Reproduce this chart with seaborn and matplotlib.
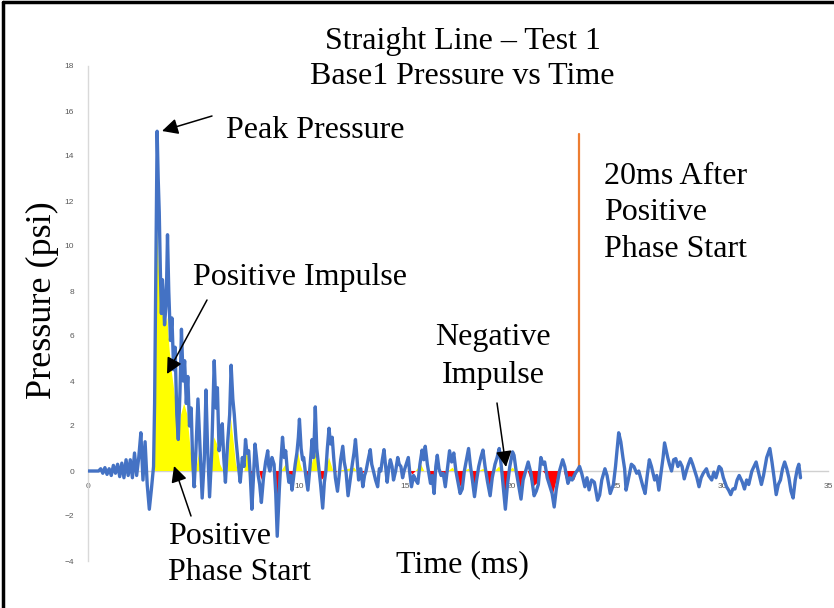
import matplotlib
matplotlib.use("Agg")
import matplotlib.pyplot as plt
import seaborn as sns
import pandas as pd
from matplotlib.lines import Line2D
from matplotlib.patches import FancyArrowPatch

# ---------------- data ----------------
time_ms = [
    0.0, 0.3, 0.5, 0.6, 0.7, 0.8, 0.9, 1.0, 1.1, 1.2, 1.3, 1.4, 1.5, 1.6, 1.7, 1.8, 1.9,
    2.0, 2.1, 2.2, 2.3, 2.4, 2.5, 2.6, 2.7, 2.8, 2.9, 3.0, 3.1, 3.15, 3.2, 3.27, 3.32,
    3.37, 3.42, 3.47, 3.52, 3.57, 3.62, 3.7, 3.76, 3.82, 3.9, 3.97, 4.05, 4.12, 4.2,
    4.27, 4.35, 4.42, 4.5, 4.57, 4.65, 4.72, 4.8, 4.88, 4.95, 5.02, 5.1, 5.2, 5.3, 5.4,
    5.5, 5.58, 5.65, 5.75, 5.85, 5.97, 6.05, 6.12, 6.2, 6.28, 6.35, 6.42, 6.5, 6.6, 6.7,
    6.77, 6.85, 6.92, 7.0, 7.05, 7.12, 7.2, 7.3, 7.38, 7.45, 7.52, 7.6, 7.68, 7.75, 7.82,
    7.9, 7.97, 8.05, 8.12, 8.2, 8.3, 8.4, 8.5, 8.55, 8.6, 8.7, 8.8, 8.88, 8.95, 9.05,
    9.12, 9.2, 9.28, 9.35, 9.42, 9.5, 9.58, 9.65, 9.72, 9.8, 9.88, 9.95, 10.0, 10.08,
    10.15, 10.2, 10.3, 10.4, 10.5, 10.6, 10.67, 10.75, 10.82, 10.9, 11.0, 11.1, 11.18,
    11.25, 11.32, 11.4, 11.47, 11.55, 11.62, 11.7, 11.8, 11.88, 11.95, 12.05, 12.12,
    12.2, 12.3, 12.4, 12.5, 12.58, 12.65, 12.72, 12.8, 12.9, 13.0, 13.08, 13.15, 13.25,
    13.35, 13.42, 13.5, 13.6, 13.7, 13.78, 13.85, 13.92, 14.0, 14.08, 14.15, 14.22,
    14.3, 14.38, 14.45, 14.55, 14.65, 14.72, 14.8, 14.88, 14.95, 15.05, 15.15, 15.22,
    15.3, 15.4, 15.5, 15.6, 15.7, 15.8, 15.88, 15.95, 16.05, 16.2, 16.28, 16.37, 16.45,
    16.52, 16.6, 16.7, 16.8, 16.9, 17.0, 17.1, 17.2, 17.3, 17.4, 17.5, 17.6, 17.7, 17.8,
    17.9, 18.0, 18.08, 18.18, 18.28, 18.38, 18.48, 18.58, 18.68, 18.78, 18.9, 19.02,
    19.12, 19.25, 19.35, 19.45, 19.55, 19.65, 19.74, 19.84, 19.95, 20.08, 20.15, 20.25,
    20.38, 20.48, 20.58, 20.7, 20.82, 20.95, 21.1, 21.2, 21.3, 21.42, 21.52, 21.6, 21.72,
    21.82, 21.95, 22.05, 22.15, 22.3, 22.45, 22.55, 22.7, 22.8, 22.9, 23.05, 23.16,
    23.25, 23.35, 23.5, 23.6, 23.7, 23.82, 23.95, 24.1, 24.2, 24.3, 24.45, 24.55, 24.7,
    24.85, 24.95, 25.1, 25.2, 25.3, 25.38, 25.45, 25.55, 25.7, 25.82, 25.95, 26.05,
    26.25, 26.35, 26.45, 26.55, 26.65, 26.8, 26.9, 27.0, 27.1, 27.2, 27.27, 27.35, 27.42,
    27.5, 27.6, 27.7, 27.8, 27.9, 28.0, 28.1, 28.2, 28.3, 28.4, 28.5, 28.6, 28.7, 28.8,
    28.9, 29.0, 29.1, 29.25, 29.35, 29.5, 29.6, 29.7, 29.85, 29.95, 30.05, 30.2, 30.3,
    30.4, 30.5, 30.6, 30.7, 30.8, 30.95, 31.05, 31.15, 31.25, 31.4, 31.5, 31.6, 31.7,
    31.85, 31.95, 32.1, 32.25, 32.35, 32.45, 32.55, 32.65, 32.75, 32.85, 32.95, 33.05,
    33.15, 33.25, 33.35, 33.45, 33.55, 33.62, 33.7,
]
pressure_psi = [
    0.0, 0.0, 0.0, 0.1, -0.1, 0.15, -0.15, 0.1, -0.2, 0.25, -0.1, 0.3, -0.25, 0.35, -0.3, 0.5, -0.2,
    0.5, -0.3, 0.8, -0.2, 0.6, 1.7, -0.4, 1.3, -0.6, -1.7, -0.8, 0.2, 3.0, 8.0, 15.1, 13.0,
    11.5, 9.0, 7.0, 8.5, 7.8, 6.5, 7.5, 10.5, 8.0, 5.8, 6.8, 4.5, 5.5, 2.5,
    1.4, 3.5, 6.3, 4.0, 4.9, 3.0, 4.2, 2.0, 2.8, 0.5, -0.7, 0.8, 3.2, 1.0, -1.2,
    0.5, 3.6, 1.2, -1.15, 0.8, 4.9, 2.8, 3.7, 0.9, 1.5, 2.1, 0.6, -0.5, 1.2, 2.5,
    4.7, 3.2, 2.5, 1.4, 0.9, 0.2, -0.5, 0.6, 0.2, 1.4, 0.8, 0.9, -0.3, -1.7, -0.4,
    1.2, 0.6, -0.2, -0.6, -1.4, -0.3, 0.4, 0.9, 0.2, 0.0, 0.6, 0.3, -1.0, -2.9, -0.8,
    0.4, 1.5, 0.6, 0.9, 0.1, -0.5, -0.2, -0.85, -0.3, 0.3, 0.8, 1.5, 2.3, 1.0,
    0.5, 0.6, -0.2, -0.85, 0.2, 1.4, 0.6, 2.85, 1.0, 0.3, -0.6, -1.65, -0.5,
    0.0, 1.0, 1.9, 1.2, 1.5, 0.6, -0.3, -0.9, -0.2, 0.5, 1.1, 0.4,
    0.0, -1.1, -0.4, 0.3, 0.8, 1.4, 0.6, -0.4, 0.1, -0.7, -0.2, 0.0, 0.5,
    0.95, 0.3, 0.0, -0.4, -0.7, 0.1, 0.0, 0.5, 0.95, 0.2, -0.5, 0.1,
    0.5, 0.2, -0.4, 0.0, 0.6, 0.3, 0.2, -0.3, 0.0, 0.3, 0.6, -0.1,
    -0.7, -0.2, -0.4, -0.55, 0.3, 0.93, 0.5, 1.1, 0.3, -0.55, -0.2, -1.0, 0.2,
    0.7, 0.1, -0.2, -0.1, -0.7, 0.1, 0.9, 0.4, 0.8, 0.0, -0.5, -1.0, -0.8, 0.0,
    0.5, 1.0, 0.3, -0.4, -1.14, -0.4, 0.2, 0.6, 0.93, 0.2, -0.5, -1.1,
    -0.3, 0.3, 0.6, 1.0, 0.2, -0.8, -1.7, -0.6, 0.2, 0.85, 0.7, 0.0,
    -0.7, -1.25, -0.4, 0.0, 0.4, -0.1, -1.1, -0.9, -0.6, 0.6, 0.3, 0.4, -0.3,
    -0.6, -1.0, -1.6, -0.8, 0.0, 0.5, 0.2, -0.55, -0.3, -0.4, -0.1, 0.05,
    0.2, -0.1, -0.7, -0.3, -0.84, -0.4, -0.5, -1.3, -1.07, -0.4, 0.1, -0.2, -1.0,
    -0.6, 0.2, 1.7, 1.3, 0.6, 0.1, -0.85, -0.4, 0.3, 0.2, -0.1, 0.0,
    -0.7, -1.0, -0.2, 0.5, 0.2, -0.4, -0.2, -0.85, -0.1, 0.6, 1.25, 0.9, 0.6,
    0.3, 0.0, 0.5, 0.55, 0.2, 0.4, 0.2, -0.35, 0.0, 0.3, 0.55, 0.3, 0.0, -0.3,
    -0.7, -0.3, -0.1, 0.1, -0.2, -0.4, -0.05, -0.3, 0.2, 0.1, -0.3, -0.7, -0.85,
    -1.05, -0.8, -0.8, -0.4, -0.2, -0.5, -0.8, -0.4, -0.6, 0.0, 0.2, 0.4, 0.0,
    -0.6, -0.2, 0.6, 1.0, 0.4, -0.3, -1.05, -0.6, -0.4, 0.1, 0.4, 0.1,
    -0.3, -0.9, -1.2, -0.4, 0.1, 0.3, -0.3,
]

# impulse (shaded area) series
impulse_time_ms = [
    3.15, 3.2, 3.27, 3.35, 3.45, 3.55, 3.65, 3.75, 3.85, 3.95, 4.05, 4.15, 4.27, 4.4,
    4.55, 4.7, 4.85, 4.95, 5.1, 5.25, 5.35, 5.85, 5.97, 6.1, 6.25, 6.4, 6.6, 6.77, 6.9,
    7.0, 7.1, 7.4, 7.5, 7.6, 7.7, 7.78, 7.85, 8.1, 8.2, 8.3, 8.88, 8.95, 9.05, 9.15,
    9.35, 9.45, 9.55, 9.65, 9.75, 9.95, 10.05, 10.15, 10.3, 10.4, 10.5, 10.75, 10.85,
    10.95, 11.05, 11.15, 11.25, 11.4, 11.5, 11.6, 11.7, 11.8, 12.6, 12.7, 13.0, 13.1,
    15.2, 15.35, 15.5, 15.75, 15.9, 16.1, 16.3, 16.45, 16.6, 16.75, 16.9, 17.05, 17.25,
    17.35, 17.5, 17.65, 17.8, 18.0, 18.1, 18.25, 18.4, 18.5, 18.7, 18.8, 19.0, 19.15,
    19.25, 19.45, 19.55, 19.75, 19.9, 20.1, 20.2, 20.45, 20.65, 20.8, 21.05, 21.3, 21.4,
    21.5, 21.7, 22.0, 22.2, 22.35, 22.5, 22.65, 22.85, 23.0, 23.15,
]
impulse_psi = [
    0.0, 5.0, 10.8, 9.0, 7.5, 6.8, 6.5, 6.8, 5.5, 4.5, 3.8, 3.0, 1.4, 2.5,
    3.0, 2.5, 1.0, 0.0, 0.0, 0.8, 0.0, 0.0, 1.5, 1.2, 0.3, 0.0, 0.0, 2.3, 1.2,
    0.3, 0.0, 0.0, 0.9, 0.4, 0.0, -0.4, 0.0, 0.0, -0.4, 0.0, 0.0, -1.7, -0.6, 0.0,
    0.3, 0.0, -0.3, -0.4, 0.0, 0.8, 0.3, 0.0, 0.0, -0.4, 0.0, 0.9, 0.3,
    0.0, -0.4, -0.3, 0.0, 0.6, 0.3, 0.0, -0.1, 0.0, 0.15, 0.0, -0.1, 0.0,
    0.0, -0.15, 0.0, 0.3, 0.0, 0.0, -0.5, 0.0, 0.0, -0.2, -0.45, 0.0, 0.15,
    0.0, -0.4, -0.75, 0.0, 0.1, 0.0, -0.8, -0.3, 0.0, 0.1, 0.0, -0.8, -0.2,
    0.0, 0.2, 0.0, -1.1, 0.0, 0.15, 0.0, -0.8, 0.0, 0.0, -0.7, -0.5, 0.0,
    0.0, -0.2, -1.0, -0.3, 0.0, 0.0, -0.5, -0.3, -0.4, 0.0,
]

marker_time_ms = [23.2, 23.2]      # 20 ms after positive phase start
marker_psi = [0.0, 15.0]

x_ticks = [0, 5, 10, 15, 20, 25, 30, 35]
y_ticks = [-4, -2, 0, 2, 4, 6, 8, 10, 12, 14, 16, 18]

# ---------------- figure ----------------
sns.set_theme(style="white")
plt.rcParams["font.family"] = ["Liberation Sans", "DejaVu Sans"]

W, H = 834, 608
fig = plt.figure(figsize=(W / 100, H / 100), dpi=100)
ax = fig.add_axes([88 / W, 1 - 561 / H, (828 - 88) / W, (561 - 66) / H])
ax.set_facecolor("white")


def fp(x, y):
    return (x / W, 1 - y / H)


df = pd.DataFrame({"t": time_ms, "p": pressure_psi})
imp = pd.DataFrame({"t": impulse_time_ms, "p": impulse_psi})

ax.fill_between(imp["t"], imp["p"], 0, where=imp["p"] >= 0, interpolate=True,
                color="#FFFF00", linewidth=0, zorder=1)
ax.fill_between(imp["t"], imp["p"], 0, where=imp["p"] <= 0, interpolate=True,
                color="#FF0000", linewidth=0, zorder=1)

sns.lineplot(data=df, x="t", y="p", ax=ax, color="#4472C4", linewidth=2.4,
             sort=False, estimator=None, zorder=3)
ax.plot(marker_time_ms, marker_psi, color="#ED7D31", linewidth=1.6, zorder=2)

ax.set_xlim(0, 35)
ax.set_ylim(-4, 18)
ax.set_xticks(x_ticks)
ax.set_yticks(y_ticks)
ax.set_xlabel("")
ax.set_ylabel("")
for s in ["top", "right"]:
    ax.spines[s].set_visible(False)
ax.spines["bottom"].set_position(("data", 0))
ax.spines["bottom"].set_color("#D0D0D0")
ax.spines["bottom"].set_linewidth(1.0)
ax.spines["bottom"].set_zorder(0.5)
ax.spines["left"].set_color("#D9D9D9")
ax.spines["left"].set_linewidth(1.0)
ax.tick_params(axis="both", length=0, labelsize=6, colors="#595959")
ax.tick_params(axis="x", pad=9)
ax.tick_params(axis="y", pad=10)
for lab in ax.get_xticklabels() + ax.get_yticklabels():
    lab.set_family(["Liberation Sans", "DejaVu Sans"])
ax.grid(False)

serif = ["Liberation Serif", "DejaVu Serif"]
fs = 23


def label(x, y, s, ha="left", size=fs, **kw):
    fig.text(*fp(x, y), s, ha=ha, va="center", fontsize=size, family=serif,
             color="black", **kw)


label(463, 42, "Straight Line \u2013 Test 1", ha="center")
label(462, 77, "Base1 Pressure vs Time", ha="center")
label(226, 130, "Peak Pressure")
label(604, 176, "20ms After")
label(604, 213, "Positive")
label(604, 250, "Phase Start")
label(193, 277, "Positive Impulse")
label(493, 338, "Negative", ha="center")
label(493, 376, "Impulse", ha="center")
label(168, 537, "Positive")
label(168, 573, "Phase Start")
label(462, 565, "Time (ms)", ha="center")
fig.text(*fp(42, 300), "Pressure (psi)", ha="center", va="center", rotation=90,
         fontsize=26, family=serif, color="black")


def arrow(tail, head):
    fig.add_artist(FancyArrowPatch(
        fp(*tail), fp(*head), transform=fig.transFigure,
        arrowstyle="-|>", mutation_scale=24, linewidth=1.1, color="black",
        shrinkA=0, shrinkB=0, zorder=10))


arrow((212, 116), (162, 131))
arrow((207, 300), (167, 374))
arrow((497, 403), (506, 467))
arrow((191, 516), (174, 466))

# outer frame (left and top edges)
fig.add_artist(Line2D([3 / W, 3 / W], [0, 1 - 2 / H], transform=fig.transFigure,
                      color="black", linewidth=2.5))
fig.add_artist(Line2D([3 / W, 1], [1 - 2 / H, 1 - 2 / H], transform=fig.transFigure,
                      color="black", linewidth=2.5))

fig.savefig("out.png", dpi=100)
